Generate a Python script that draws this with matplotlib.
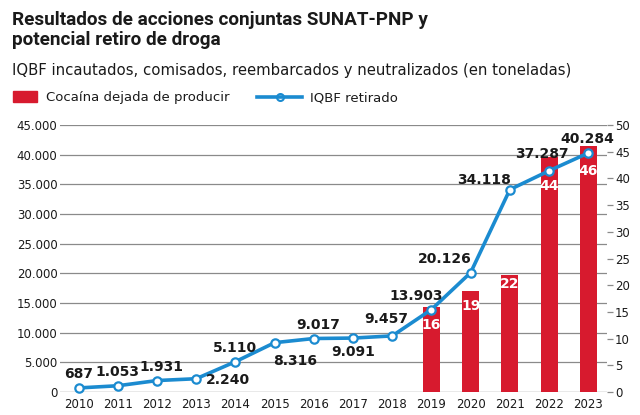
import matplotlib
matplotlib.use("Agg")
import matplotlib.pyplot as plt
import numpy as np

# data
years = ["2010", "2011", "2012", "2013", "2014", "2015", "2016",
         "2017", "2018", "2019", "2020", "2021", "2022", "2023"]
iqbf = [687, 1053, 1931, 2240, 5110, 8316, 9017, 9091, 9457,
        13903, 20126, 34118, 37287, 40284]
bar_years = ["2019", "2020", "2021", "2022", "2023"]
cocaina = [16, 19, 22, 44, 46]

left_ticks = [0, 5000, 10000, 15000, 20000, 25000, 30000, 35000, 40000, 45000]
right_ticks = [0, 5, 10, 15, 20, 25, 30, 35, 40, 45, 50]

RED = "#d71a2e"
BLUE = "#1b8bd0"
GRID = "#8a8a8a"
TXT = "#1a1a1a"


def fmt_es(v):
    return f"{v:,}".replace(",", ".")


# label placement for the line values: (dx, dy in points, ha, va)
line_lab = [(0, 5, "center", "bottom"), (0, 5, "center", "bottom"),
            (3, 5, "center", "bottom"), (7, -1, "left", "center"),
            (0, 5, "center", "bottom"), (-1, -8, "left", "top"),
            (3, 5, "center", "bottom"), (0, -5, "center", "top"),
            (-4, 7, "center", "bottom"), (-11, 5, "center", "bottom"),
            (1, 5, "right", "bottom"), (1, 2, "right", "bottom"),
            (-5, 7, "center", "bottom"), (-1, 5, "center", "bottom")]
# white labels inside the bars: dy from bar top (points)
bar_lab_dy = [-13, -11, -7, -21, -18]

fig = plt.figure(figsize=(6.4, 4.15), dpi=100)
ax = fig.add_axes([0.094, 0.0554, 0.854, 0.6434])  # bars, right scale
x = np.arange(len(years))
xb = [years.index(y) for y in bar_years]

ax.set_xlim(-0.47, len(years) - 0.53)
ax.set_ylim(0, 50)
for v in left_ticks:
    ax.axhline(v * 50 / 45000, color=GRID if v else "#555555", lw=0.9, zorder=0)
bars = ax.bar(xb, cocaina, width=0.43, color=RED, zorder=2)
for xi, v, dy in zip(xb, cocaina, bar_lab_dy):
    ax.annotate(str(v), (xi, v), xytext=(0, dy), textcoords="offset points",
                ha="center", va="center", color="white", fontsize=10,
                fontweight="bold")
ax.set_xticks(x)
ax.set_xticklabels(years)
ax.tick_params(axis="x", length=0, labelsize=8.5, labelcolor=TXT, pad=4)
for s in ax.spines.values():
    s.set_visible(False)

ax2 = ax.twinx()
ax2.set_ylim(0, 45000)
ax2.set_yticks(left_ticks)
ax2.set_yticklabels([fmt_es(v) for v in left_ticks])
ax2.yaxis.tick_left()
ax2.tick_params(axis="y", length=0, labelsize=8.5, labelcolor=TXT, pad=2)
for s in ax2.spines.values():
    s.set_visible(False)
ax2.plot(x, iqbf, color=BLUE, lw=2.6, marker="o", ms=6, mfc="white",
         mec=BLUE, mew=1.6, zorder=3, clip_on=False)
for xi, v, (dx, dy, ha, va) in zip(x, iqbf, line_lab):
    ax2.annotate(fmt_es(v), (xi, v), xytext=(dx, dy), textcoords="offset points",
                 ha=ha, va=va, fontsize=10, fontweight="bold", color=TXT)

# right scale for the bars (after twinx, which resets it)
ax.yaxis.tick_right()
ax.set_yticks(right_ticks)
ax.tick_params(axis="y", length=4, width=0.9, color=GRID, labelsize=8.5,
               labelcolor=TXT, pad=2, labelleft=False, labelright=True)

# titles
title_font = ["Liberation Sans Narrow", "Roboto", "DejaVu Sans"]
fig.text(12 / 640, 1 - 11 / 415, "Resultados de acciones conjuntas SUNAT-PNP y",
         family=title_font, fontweight="bold", fontsize=13.6, va="top", color=TXT)
fig.text(12 / 640, 1 - 31 / 415, "potencial retiro de droga",
         family=title_font, fontweight="bold", fontsize=13.6, va="top", color=TXT)
fig.text(12 / 640, 1 - 71 / 415,
         "IQBF incautados, comisados, reembarcados y neutralizados (en toneladas)",
         fontsize=10.7, va="center", color=TXT)

# legend
fig.patches.append(plt.Rectangle((13 / 640, 1 - 102 / 415), 24 / 640, 11 / 415,
                                 transform=fig.transFigure, color=RED))
fig.text(46 / 640, 1 - 98 / 415, "Cocaína dejada de producir", fontsize=9.5,
         va="center", color=TXT)
fig.lines.append(plt.Line2D([257 / 640, 302 / 640], [1 - 97 / 415] * 2,
                            transform=fig.transFigure, color=BLUE, lw=2.6,
                            zorder=3))
fig.lines.append(plt.Line2D([280 / 640], [1 - 97 / 415],
                            transform=fig.transFigure, color=BLUE, lw=0,
                            marker="o", ms=5, mfc="white", mew=1.5))
fig.text(310 / 640, 1 - 98 / 415, "IQBF retirado", fontsize=9.5, va="center",
         color=TXT)

fig.savefig("out.png", dpi=100)
